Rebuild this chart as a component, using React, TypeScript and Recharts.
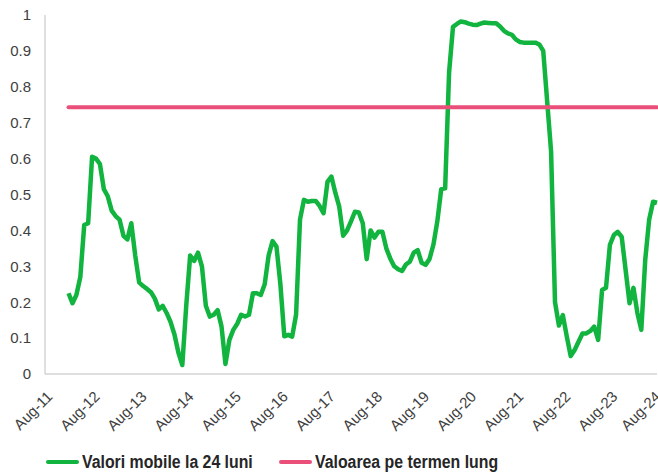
import { LineChart, Line, XAxis, YAxis, Legend } from "recharts";

// first value is Feb-12 (month index 6, counted from Aug-11)
const startMonth = 6;

const tickLabels = [
  "Aug-11", "Aug-12", "Aug-13", "Aug-14", "Aug-15", "Aug-16", "Aug-17",
  "Aug-18", "Aug-19", "Aug-20", "Aug-21", "Aug-22", "Aug-23", "Aug-24",
];

const yTicks = [0, 0.1, 0.2, 0.3, 0.4, 0.5, 0.6, 0.7, 0.8, 0.9, 1];

// Valori mobile la 24 luni, monthly Feb-12 .. Aug-24
const rolling24 = [
  0.225, 0.197, 0.22, 0.27, 0.415, 0.42, 0.605, 0.6, 0.585, 0.515, 0.495,
  0.455, 0.44, 0.43, 0.385, 0.375, 0.42, 0.33, 0.255, 0.245, 0.237, 0.228,
  0.21, 0.18, 0.19, 0.17, 0.145, 0.11, 0.06, 0.025, 0.19, 0.33, 0.315,
  0.338, 0.3, 0.19, 0.16, 0.165, 0.178, 0.132, 0.028, 0.095, 0.123, 0.14,
  0.165, 0.16, 0.165, 0.225, 0.225, 0.22, 0.25, 0.33, 0.37, 0.355, 0.25,
  0.105, 0.109, 0.104, 0.165, 0.43, 0.485, 0.48, 0.482, 0.482, 0.468,
  0.448, 0.535, 0.55, 0.505, 0.466, 0.385, 0.4, 0.425, 0.452, 0.45, 0.42,
  0.32, 0.4, 0.38, 0.396, 0.396, 0.35, 0.322, 0.3, 0.292, 0.287, 0.305,
  0.313, 0.338, 0.345, 0.31, 0.304, 0.32, 0.36, 0.425, 0.515, 0.517, 0.84,
  0.967, 0.975, 0.982, 0.98, 0.976, 0.973, 0.972, 0.976, 0.979, 0.978,
  0.977, 0.977, 0.968, 0.956, 0.949, 0.945, 0.932, 0.925, 0.923, 0.923,
  0.923, 0.923, 0.918, 0.9, 0.76, 0.62, 0.2, 0.135, 0.164, 0.105, 0.05,
  0.067, 0.09, 0.113, 0.113, 0.12, 0.132, 0.095, 0.234, 0.24, 0.36, 0.387,
  0.396, 0.382, 0.29, 0.197, 0.24, 0.17, 0.123, 0.318, 0.43, 0.48, 0.477,
];

// Valoarea pe termen lung
const longTermValue = 0.743;

const data = rolling24.map((v, i) => ({
  m: startMonth + i,
  rolling: v,
  longTerm: longTermValue,
}));

const GREEN = "#10b43e";
const PINK = "#ea4f7a";

const XTick = ({ x, y, payload }: any) => {
  // keep the last label inside the page
  const tx = Math.min(x + 1, 654);
  const ty = y + 16;
  return (
    <text
      x={tx}
      y={ty}
      dy="0.71em"
      textAnchor="end"
      transform={`rotate(-45 ${tx} ${ty})`}
      fontSize={15}
      fontFamily="'Liberation Sans', Arial, sans-serif"
      fill="#404040"
    >
      {tickLabels[Math.round(payload.value / 12)]}
    </text>
  );
};

// narrow bold text like the original legend
const Narrow = ({ children }: any) => (
  <span
    style={{
      display: "inline-block",
      whiteSpace: "nowrap",
      transform: "scaleX(0.88)",
      transformOrigin: "left center",
    }}
  >
    {children}
  </span>
);

const LegendContent = () => (
  <div
    style={{
      display: "flex",
      alignItems: "center",
      height: 20,
      paddingLeft: 46,
      fontFamily: "'Liberation Sans', Arial, sans-serif",
      fontWeight: "bold",
      fontSize: 18,
      color: "#262626",
    }}
  >
    <div style={{ display: "flex", alignItems: "center", width: 233, flex: "none" }}>
      <span style={{ width: 33, height: 4, borderRadius: 2, background: GREEN, marginRight: 3 }} />
      <Narrow>Valori mobile la 24 luni</Narrow>
    </div>
    <div style={{ display: "flex", alignItems: "center", flex: "none" }}>
      <span style={{ width: 33, height: 4, borderRadius: 2, background: PINK, marginRight: 3 }} />
      <Narrow>Valoarea pe termen lung</Narrow>
    </div>
  </div>
);

export default function App() {
  return (
    <div style={{ position: "absolute", left: 0, top: 0, width: 658, height: 475 }}>
      <LineChart
        width={658}
        height={475}
        data={data}
        margin={{ top: 15, right: 1, left: 8, bottom: 3 }}
      >
        <XAxis
          dataKey="m"
          type="number"
          domain={[0, 156]}
          ticks={tickLabels.map((_, i) => i * 12)}
          tick={<XTick />}
          tickLine={false}
          tickSize={0}
          tickMargin={0}
          height={78}
          stroke="#bfbfbf"
          interval={0}
        />
        <YAxis
          domain={[0, 1]}
          ticks={yTicks}
          width={37}
          tickLine={false}
          tickSize={0}
          tickMargin={14}
          stroke="#bfbfbf"
          tick={{ fontSize: 15, fill: "#404040", fontFamily: "'Liberation Sans', Arial, sans-serif" }}
        />
        <Legend
          verticalAlign="bottom"
          content={<LegendContent />}
          wrapperStyle={{ left: 0, width: 658 }}
        />
        <Line
          type="linear"
          dataKey="rolling"
          stroke={GREEN}
          strokeWidth={4.5}
          dot={false}
          strokeLinejoin="round"
          isAnimationActive={false}
        />
        <Line
          type="linear"
          dataKey="longTerm"
          stroke={PINK}
          strokeWidth={4}
          dot={false}
          strokeLinecap="round"
          isAnimationActive={false}
        />
      </LineChart>
    </div>
  );
}
